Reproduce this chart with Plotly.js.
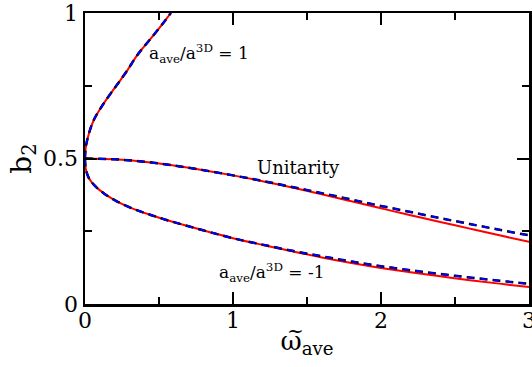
<!DOCTYPE html>
<html>
<head>
<meta charset="utf-8">
<script src="https://cdn.plot.ly/plotly-3.0.1.min.js"></script>
<style>
  body { margin: 0; background: white; }
  #graph { width: 532px; height: 367px; }
</style>
</head>
<body>
<div id="graph"></div>
<script>
// ramo a_ave/a3D = 1 (sobe a partir de 0.5)
const xUp = [0, 0.002, 0.008, 0.027, 0.061, 0.117, 0.173, 0.23, 0.286, 0.353, 0.444, 0.534, 0.58];
const yUp = [0.5, 0.523, 0.547, 0.587, 0.634, 0.682, 0.723, 0.763, 0.803, 0.855, 0.912, 0.969, 1.0];

// unitaridade
const xUni = [0, 0.2, 0.4, 0.6, 0.8, 1.0, 1.2, 1.4, 1.6, 1.8, 2.0, 2.2, 2.4, 2.6, 2.8, 3.0];
const yUniRed = [0.5, 0.497, 0.489, 0.476, 0.46, 0.442, 0.422, 0.4, 0.377, 0.353, 0.329, 0.305, 0.282, 0.259, 0.236, 0.214];
const yUniBlue = [0.5, 0.497, 0.489, 0.476, 0.46, 0.442, 0.423, 0.402, 0.381, 0.359, 0.337, 0.316, 0.295, 0.275, 0.255, 0.236];

// ramo a_ave/a3D = -1 (desce a partir de 0.5)
const xLow = [0, 0.002, 0.008, 0.027, 0.061, 0.128, 0.218, 0.331, 0.444, 0.556, 0.7, 0.85, 1.0, 1.2, 1.4, 1.6, 1.8, 2.0, 2.2, 2.4, 2.6, 2.8, 3.0];
const yLowRed = [0.5, 0.478, 0.458, 0.432, 0.409, 0.38, 0.352, 0.326, 0.306, 0.288, 0.267, 0.246, 0.226, 0.203, 0.181, 0.16, 0.141, 0.124, 0.109, 0.095, 0.082, 0.07, 0.058];
const yLowBlue = [0.5, 0.478, 0.458, 0.432, 0.409, 0.38, 0.352, 0.326, 0.306, 0.288, 0.267, 0.246, 0.226, 0.204, 0.183, 0.164, 0.146, 0.13, 0.116, 0.103, 0.091, 0.08, 0.069];

const xTicks = [0, 1, 2, 3];
const yTicks = [0, 0.5, 1];
const yTickText = ['0', '0.5', '1'];

// so a DejaVu Serif aparece como fonte serifada aqui
const serif = 'DejaVu Serif';

function red(x, y) {
    return { x: x, y: y, type: 'scatter', mode: 'lines', hoverinfo: 'skip',
        line: { color: '#ff0000', width: 2, shape: 'spline', smoothing: 1 } };
}
function dashed(x, y) {
    // traço azul com pontas pretas
    return [
        { x: x, y: y, type: 'scatter', mode: 'lines', hoverinfo: 'skip',
            line: { color: '#000000', width: 2.5, dash: '8px,5px', shape: 'spline', smoothing: 1 } },
        { x: x, y: y, type: 'scatter', mode: 'lines', hoverinfo: 'skip',
            line: { color: '#0000ff', width: 2, dash: '0px,1px,6px,6px', shape: 'spline', smoothing: 1 } }
    ];
}

const data = [
    red(xUp, yUp), red(xUni, yUniRed), red(xLow, yLowRed),
    ...dashed(xUp, yUp), ...dashed(xUni, yUniBlue), ...dashed(xLow, yLowBlue)
];

const axisBase = {
    showline: true, linecolor: 'black', linewidth: 2.5, mirror: 'ticks',
    ticks: 'inside', ticklen: 12, tickwidth: 2, tickcolor: 'black',
    showgrid: false, zeroline: false, fixedrange: true,
    ticklabeloverflow: 'allow',
    tickfont: { family: serif, size: 22, color: 'black' }
};

const layout = {
    width: 532, height: 367,
    margin: { l: 85, r: 3, t: 13, b: 63 },
    paper_bgcolor: 'white', plot_bgcolor: 'white',
    showlegend: false,
    font: { family: serif, color: 'black' },
    xaxis: Object.assign({}, axisBase, {
        range: [0, 3], tickvals: xTicks, ticklabelstandoff: -5,
        minor: { dtick: 0.5, ticks: 'inside', ticklen: 7, tickwidth: 2, tickcolor: 'black' },
        title: { text: 'ω<sub>ave</sub>', font: { family: serif, size: 26, color: 'black' }, standoff: 0 }
    }),
    yaxis: Object.assign({}, axisBase, {
        range: [0, 1], tickvals: yTicks, ticktext: yTickText,
        minor: { dtick: 0.25, ticks: 'inside', ticklen: 7, tickwidth: 2, tickcolor: 'black' },
        title: { text: 'b<sub>2</sub>', font: { family: serif, size: 28, color: 'black' }, standoff: 4 }
    }),
    annotations: [
        { x: 0.419, y: 0.862, xanchor: 'left', yanchor: 'middle', showarrow: false,
            text: 'a<sub>ave</sub>/a<sup>3D</sup> = 1', font: { family: serif, size: 17, color: 'black' } },
        { x: 1.44, y: 0.47, xanchor: 'center', yanchor: 'middle', showarrow: false,
            text: 'Unitarity', font: { family: serif, size: 18, color: 'black' } },
        { x: 0.892, y: 0.107, xanchor: 'left', yanchor: 'middle', showarrow: false,
            text: 'a<sub>ave</sub>/a<sup>3D</sup> = -1', font: { family: serif, size: 17, color: 'black' } },
        // til sobre o omega do titulo
        { x: 0.473, xref: 'paper', y: (304 - 331) / 291, yref: 'paper', yanchor: 'middle', showarrow: false,
            text: '~', font: { family: serif, size: 20, color: 'black' } }
    ]
};

Plotly.newPlot('graph', data, layout, { displayModeBar: false, staticPlot: true });
</script>
</body>
</html>
